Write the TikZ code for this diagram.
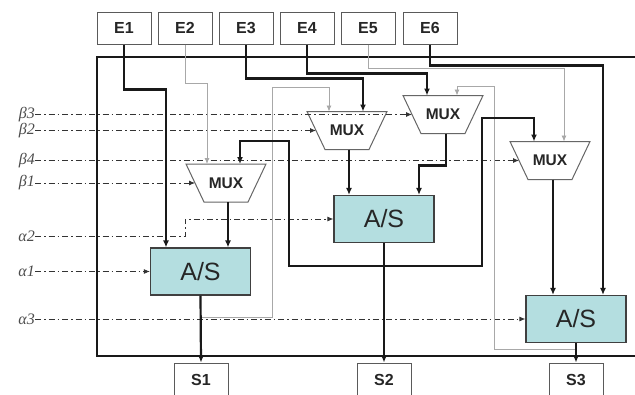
\documentclass[tikz,border=0pt]{standalone}
\usepackage{fontspec}
\setmainfont{Liberation Sans}
\newfontfamily\grk{Liberation Serif}
\usetikzlibrary{arrows.meta,calc}
\definecolor{asfill}{HTML}{B4DEE0}
\definecolor{gl}{HTML}{A8A8A8}
\definecolor{bx}{HTML}{5A5A5A}
\newcommand\muxdraw[1]{\draw[muxline] ($(#1)+(-40,-19)$) -- ($(#1)+(40,-19)$) -- ($(#1)+(22,19)$) -- ($(#1)+(-22,19)$) -- cycle;}
\begin{document}
\begin{tikzpicture}[x=1pt,y=-1pt,
  ebox/.style={draw=bx, line width=1pt, fill=white, minimum width=54pt, minimum height=32pt, inner sep=0pt,
    font=\bfseries\fontsize{16}{16}\selectfont, text=black!85},
  asbox/.style={draw=black!75, line width=1.2pt, fill=asfill, minimum width=100pt, minimum height=47pt, inner sep=0pt,
    font=\fontsize{25}{25}\selectfont, text=black!85},
  muxtxt/.style={inner sep=0pt, font=\bfseries\fontsize{15.5}{15.5}\selectfont, text=black!85},
  muxline/.style={draw=black!60, line width=1pt, line join=miter},
  lab/.style={anchor=east, inner sep=0pt, font=\grk\itshape\fontsize{16}{16}\selectfont, text=black!70},
  thk/.style={line width=2.2pt, black!90},
  gline/.style={line width=0.9pt, gl},
  ctrl/.style={line width=0.85pt, black!80, dash pattern=on 6pt off 3pt on 1.5pt off 3pt},
  arr/.style={-{Latex[length=6pt,width=5pt]}},
  arrT/.style={-{Latex[length=7pt,width=6pt]}}
]
\useasboundingbox (0,0) rectangle (635,394);
\fill[white] (0,0) rectangle (635,394);

% frame
\draw[thk] (97,57) rectangle (645,356);

% inputs
\node[ebox] (E1) at (124,28) {E1};
\node[ebox] (E2) at (185,28) {E2};
\node[ebox] (E3) at (246,28) {E3};
\node[ebox] (E4) at (307,28) {E4};
\node[ebox] (E5) at (368,28) {E5};
\node[ebox] (E6) at (430,28) {E6};

% outputs
\node[ebox, minimum height=33pt] (S1) at (201,379.5) {S1};
\node[ebox, minimum height=33pt] (S2) at (384,379.5) {S2};
\node[ebox, minimum height=33pt] (S3) at (576,379.5) {S3};

% adders
\node[asbox] (a1) at (200.5,271.5) {A/S};
\node[asbox] (a2) at (384,219) {A/S};
\node[asbox] (a3) at (576,319) {A/S};

% multiplexers
\node[muxtxt] (m1) at (226,183) {MUX};
\node[muxtxt] (m2) at (347,130.5) {MUX};
\node[muxtxt] (m3) at (443,114.5) {MUX};
\node[muxtxt] (m4) at (550,160.5) {MUX};
\muxdraw{m1}
\muxdraw{m2}
\muxdraw{m3}
\muxdraw{m4}

% control labels
\node[lab] (lb3) at (35,114.5) {β3};
\node[lab] (lb2) at (35,130.5) {β2};
\node[lab] (lb4) at (35,160.5) {β4};
\node[lab] (lb1) at (35,183) {β1};
\node[lab] (la2) at (35,236) {α2};
\node[lab] (la1) at (35,271.5) {α1};
\node[lab] (la3) at (35,319) {α3};

% junctions and output points
\coordinate (j1) at ($(a1.south)+(0,21.5)$);
\coordinate (j2) at ($(a2.south)+(0,23)$);
\coordinate (j3) at ($(a3.south)+(0,6.5)$);
\coordinate (m1o) at ($(m1)+(2,19)$);
\coordinate (m2o) at ($(m2)+(2,19)$);
\coordinate (m3o) at ($(m3)+(3,19)$);
\coordinate (m4o) at ($(m4)+(3,19)$);

% control lines
\draw[ctrl,arr] (lb3.east) -- ($(m3)+(-31,0)$);
\draw[ctrl,arr] (lb2.east) -- ($(m2)+(-31,0)$);
\draw[ctrl,arr] (lb4.east) -- ($(m4)+(-31,0)$);
\draw[ctrl,arr] (lb1.east) -- ($(m1)+(-31,0)$);
\draw[ctrl,arr] (la2.east) -- ++(150,0) |- (a2.west);
\draw[ctrl,arr] (la1.east) -- (a1.west);
\draw[ctrl,arr] (la3.east) -- (a3.west);

% feedback lines (grey)
\draw[gline,arr] (j1) -| (272,87) -| ($(m2)+(-18,-19)$);
\draw[gline,arr] (j3) -| (494,86) -| ($(m3)+(14,-19)$);

% input lines
\draw[thk,arrT] (E1.south) -- ++(0,45) -| ([xshift=-34.5pt]a1.north);
\draw[gline,arr] (E2.south) -- ++(0,39) -| ($(m1)+(-19,-19)$);
\draw[thk,arrT] (E3.south) -- ++(0,34) -| ($(m2)+(16,-19)$);
\draw[thk,arrT] (E4.south) -- ++(0,29) -| ($(m3)+(-16,-19)$);
\draw[gline,arr] (E5.south) -- ++(0,24) -| ($(m4)+(14,-19)$);
\draw[thk,arrT] (E6.south) -- ++(0,21) -| ([xshift=27pt]a3.north);

% S2 feedback loop
\draw[thk,arrT] (j2) -| (289,141) -| ($(m1)+(14,-19)$);
\draw[thk,arrT] (j2) -| (482,118) -| ($(m4)+(-16,-19)$);

% mux outputs
\draw[thk,arrT] (m1o) -- (m1o |- a1.north);
\draw[thk,arrT] (m2o) -- (m2o |- a2.north);
\draw[thk,arrT] (m3o) -- ++(0,32) -| ([xshift=35pt]a2.north);
\draw[thk,arrT] (m4o) -- (m4o |- a3.north);

% adder outputs
\draw[thk,arrT] (a1.south) -- (S1.north);
\draw[thk,arrT] (a2.south) -- (S2.north);
\draw[thk,arrT] (a3.south) -- (S3.north);
\end{tikzpicture}
\end{document}
